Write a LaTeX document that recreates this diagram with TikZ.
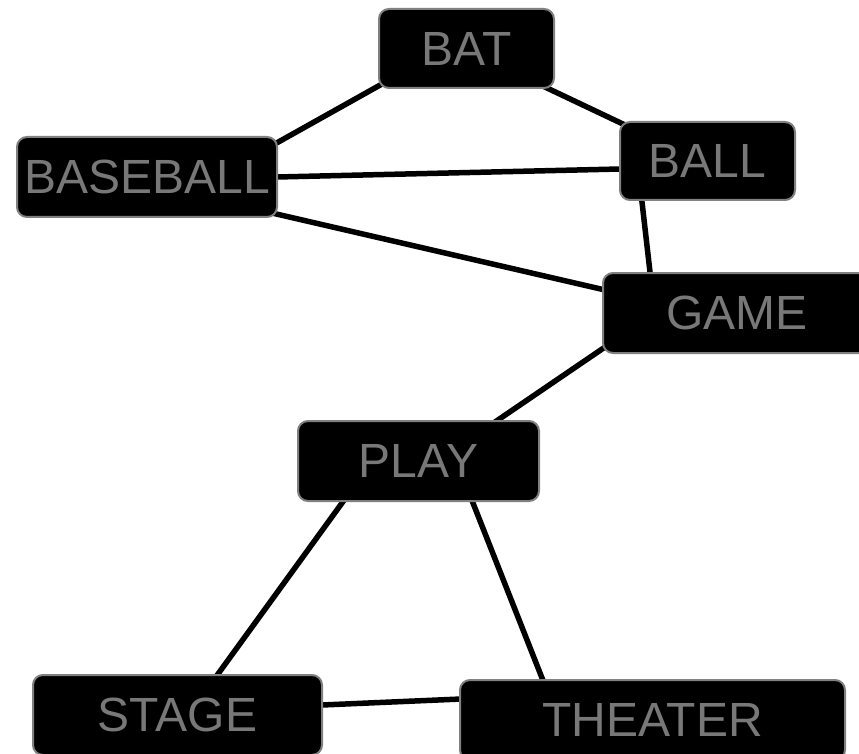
\documentclass[tikz,border=0pt]{standalone}
\usepackage{fontspec}
\setmainfont{Liberation Sans}
\usetikzlibrary{calc}
\pgfdeclarelayer{background}
\pgfsetlayers{background,main}
\definecolor{txtgray}{HTML}{787878}
\definecolor{bordergray}{HTML}{808080}
\begin{document}
\begin{tikzpicture}[x=1pt,y=-1pt,
  wordbox/.style={draw=bordergray, line width=2pt, fill=black, rounded corners=10pt,
    inner sep=0pt, text=txtgray, font=\fontsize{48}{52}\selectfont},
  link/.style={line width=5.5pt, black, shorten <=-5pt, shorten >=-5pt}]
\useasboundingbox (0,0) rectangle (859,754);
\node[wordbox, minimum width=175pt, minimum height=79pt] (bat) at (466.5,48.5) {BAT};
\node[wordbox, minimum width=260pt, minimum height=80pt] (baseball) at (147,177) {BASEBALL};
\node[wordbox, minimum width=175pt, minimum height=78pt] (ball) at (707.5,161) {BALL};
\node[wordbox, minimum width=268pt, minimum height=80pt] (game) at (737,313) {GAME};
\node[wordbox, minimum width=241pt, minimum height=80pt] (play) at (418.5,461) {PLAY};
\node[wordbox, minimum width=289pt, minimum height=80pt] (stage) at (177.5,715) {STAGE};
\node[wordbox, minimum width=385pt, minimum height=80pt] (theater) at (652.5,720) {THEATER};
\begin{pgfonlayer}{background}
\draw[link] ($(bat.center)+(-84.5,35.5)$) -- ($(baseball.center)+(126,-32)$);
\draw[link] ($(bat.center)+(80.5,39.5)$) -- ($(ball.center)+(-82.5,-36)$);
\draw[link] ($(baseball.center)+(130,0)$) -- ($(ball.center)+(-87.5,8)$);
\draw[link] ($(baseball.center)+(125,36)$) -- ($(game.center)+(-132,-23)$);
\draw[link] ($(ball.center)+(-65.5,41)$) -- ($(game.center)+(-87,-41)$);
\draw[link] ($(game.center)+(-129,32)$) -- ($(play.center)+(76.5,-39)$);
\draw[link] ($(play.center)+(-76.5,42)$) -- ($(stage.center)+(40.5,-41)$);
\draw[link] ($(play.center)+(54.5,42)$) -- ($(theater.center)+(-110.5,-42)$);
\draw[link] ($(stage.center)+(144.5,-10)$) -- ($(theater.center)+(-191.5,-21)$);
\end{pgfonlayer}
\end{tikzpicture}
\end{document}
